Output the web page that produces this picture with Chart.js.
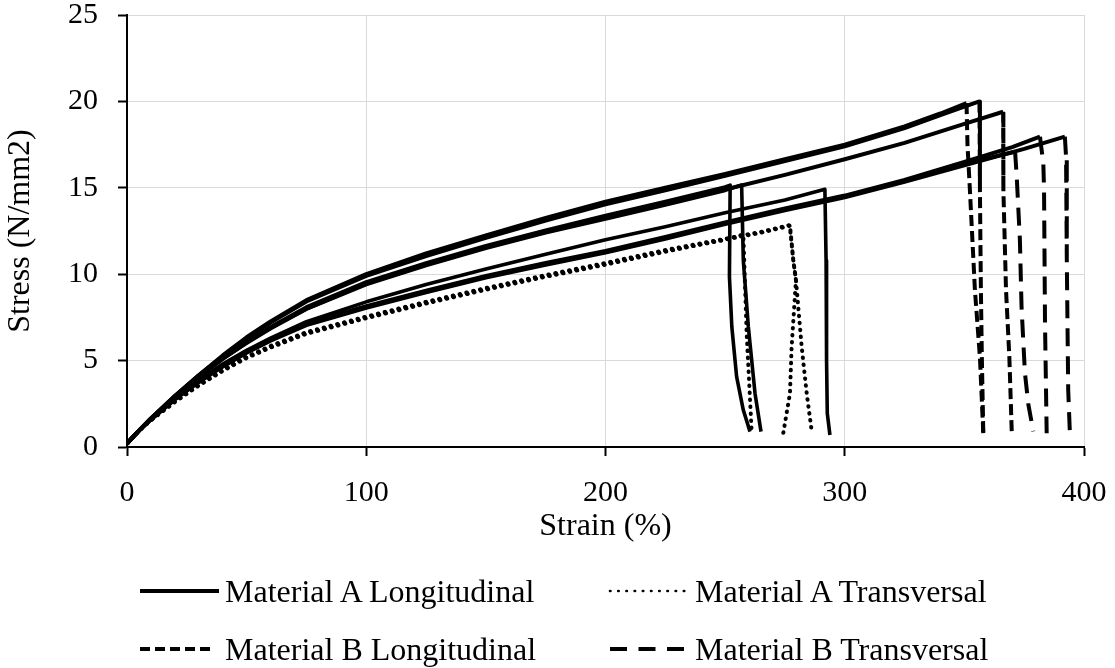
<!DOCTYPE html>
<html>
<head>
<meta charset="utf-8">
<script src="https://cdn.jsdelivr.net/npm/chart.js@4.4.0/dist/chart.umd.min.js"></script>
<style>
  body { margin: 0; background: #fff; }
  #wrap { position: relative; width: 1115px; height: 668px; overflow: hidden; }
  #grafico { position: absolute; left: 0; top: 0; }
  .item { position: absolute; height: 32px; font-family: "Liberation Serif", "Times New Roman", serif; font-size: 32px; line-height: 32px; color: #000; white-space: nowrap; }
  .item svg { position: absolute; left: 0; top: 11px; }
  .item span { position: absolute; top: 0; }
</style>
</head>
<body>
<div id="wrap">
  <canvas id="grafico" width="1115" height="668"></canvas>
  <div id="leyenda"></div>
</div>
<script>
//datos
const seriesNames = ["Material A Longitudinal", "Material A Transversal", "Material B Longitudinal", "Material B Transversal"];

// Material A Longitudinal
const strainAL1 = [0, 5, 10, 20, 30, 40, 50, 60, 75, 100, 125, 150, 175, 200, 225, 250, 252.1, 251.8, 252.8, 254.8, 257.6, 260.4];
const stressAL1 = [0.2, 0.95, 1.65, 2.95, 4.1, 5.15, 6.1, 6.95, 8.1, 9.55, 10.65, 11.65, 12.55, 13.4, 14.2, 15.05, 15.15, 9.86, 6.96, 4.07, 2.14, 0.89];
const strainAL2 = [0, 5, 10, 20, 30, 40, 50, 60, 75, 100, 125, 150, 175, 200, 225, 250, 256.9, 257.6, 259.7, 262.5, 265];
const stressAL2 = [0.2, 0.95, 1.65, 2.9, 4.05, 5.1, 6.0, 6.85, 7.98, 9.4, 10.5, 11.5, 12.4, 13.2, 14.0, 14.85, 15.16, 10.8, 6.96, 3.1, 0.89];
const strainAL3 = [0, 5, 10, 20, 30, 40, 50, 60, 75, 100, 125, 150, 175, 200, 225, 250, 275, 291.7, 292.2, 292.4, 292.7, 293.8];
const stressAL3 = [0.2, 0.95, 1.6, 2.8, 3.85, 4.8, 5.6, 6.3, 7.25, 8.4, 9.4, 10.3, 11.15, 12.0, 12.75, 13.55, 14.3, 14.91, 10.8, 5.0, 1.95, 0.69];

// Material A Transversal
const strainAT1 = [0, 5, 10, 20, 30, 40, 50, 60, 75, 100, 125, 150, 175, 200, 225, 250, 257.6, 259, 261.1];
const stressAT1 = [0.2, 0.95, 1.55, 2.65, 3.6, 4.45, 5.2, 5.8, 6.6, 7.5, 8.35, 9.15, 9.9, 10.6, 11.35, 12.0, 12.3, 6.6, 0.87];
const strainAT2 = [0, 5, 10, 20, 30, 40, 50, 60, 75, 100, 125, 150, 175, 200, 225, 250, 265, 277.1, 278.5, 279.6, 277.8, 277.1, 274.3];
const stressAT2 = [0.2, 0.95, 1.55, 2.65, 3.6, 4.45, 5.22, 5.85, 6.65, 7.55, 8.4, 9.2, 9.95, 10.65, 11.4, 12.05, 12.45, 12.85, 10.8, 9.66, 5.8, 3.1, 0.8];
const strainAT3 = [0, 5, 10, 20, 30, 40, 50, 60, 75, 100, 125, 150, 175, 200, 225, 250, 265, 277, 278.5, 279.6, 282, 284.1, 286.2];
const stressAT3 = [0.2, 0.95, 1.55, 2.6, 3.55, 4.4, 5.15, 5.75, 6.55, 7.45, 8.3, 9.1, 9.85, 10.55, 11.3, 12.0, 12.4, 12.8, 10.8, 9.66, 5.8, 3.1, 0.9];

// Material B Longitudinal
const strainBL1 = [0, 5, 10, 20, 30, 40, 50, 60, 75, 100, 125, 150, 175, 200, 225, 250, 275, 300, 325, 340, 350.9, 351.3, 352.3, 354.4, 356.5, 357.9];
const stressBL1 = [0.2, 0.95, 1.65, 2.95, 4.15, 5.3, 6.35, 7.27, 8.5, 10.0, 11.2, 12.25, 13.25, 14.2, 15.0, 15.8, 16.65, 17.5, 18.55, 19.3, 19.9, 17.5, 14.9, 9.1, 5.2, 0.8];
const strainBL2 = [0, 5, 10, 20, 30, 40, 50, 60, 75, 100, 125, 150, 175, 200, 225, 250, 275, 300, 325, 340, 350, 356.3, 356.5, 356.9, 357.3, 357.9];
const stressBL2 = [0.2, 0.95, 1.65, 2.95, 4.15, 5.25, 6.3, 7.2, 8.42, 9.9, 11.05, 12.1, 13.1, 14.05, 14.85, 15.7, 16.55, 17.4, 18.45, 19.2, 19.7, 20.0, 14.9, 9.1, 5.2, 0.8];
const strainBL3 = [0, 5, 10, 20, 30, 40, 50, 60, 75, 100, 125, 150, 175, 200, 225, 250, 275, 300, 325, 350, 366.2, 366.3, 367.4, 368.8, 369.8];
const stressBL3 = [0.2, 0.95, 1.65, 2.9, 4.05, 5.1, 6.05, 6.9, 8.0, 9.45, 10.55, 11.55, 12.45, 13.3, 14.1, 14.9, 15.75, 16.65, 17.6, 18.7, 19.4, 14.9, 9.1, 5.2, 0.9];

// Material B Transversal
const strainBT1 = [0, 5, 10, 20, 30, 40, 50, 60, 75, 100, 125, 150, 175, 200, 225, 250, 275, 300, 325, 350, 371.2, 371.9, 373.2, 373.9, 375.3, 376.7, 378.8];
const stressBT1 = [0.2, 0.95, 1.6, 2.75, 3.8, 4.7, 5.5, 6.2, 7.1, 8.1, 9.0, 9.85, 10.6, 11.3, 12.1, 12.95, 13.75, 14.5, 15.4, 16.4, 17.09, 15.6, 12.0, 8.1, 4.3, 2.5, 0.9];
const strainBT2 = [0, 5, 10, 20, 30, 40, 50, 60, 75, 100, 125, 150, 175, 200, 225, 250, 275, 300, 325, 350, 370, 381.6, 383.0, 383.3, 383.7, 384.4];
const stressBT2 = [0.2, 0.95, 1.6, 2.8, 3.85, 4.75, 5.55, 6.25, 7.15, 8.15, 9.05, 9.9, 10.65, 11.35, 12.15, 13.0, 13.8, 14.55, 15.45, 16.5, 17.35, 17.96, 16.4, 14.9, 7.2, 0.8];
const strainBT3 = [0, 5, 10, 20, 30, 40, 50, 60, 75, 100, 125, 150, 175, 200, 225, 250, 275, 300, 325, 350, 375, 392, 392.5, 392.8, 393.4, 394.1];
const stressBT3 = [0.2, 0.95, 1.6, 2.75, 3.75, 4.65, 5.45, 6.15, 7.05, 8.05, 8.95, 9.8, 10.55, 11.25, 12.05, 12.9, 13.7, 14.45, 15.35, 16.3, 17.25, 17.96, 16.8, 11.0, 3.3, 0.8];

const xTicks = [0, 100, 200, 300, 400];
const yTicks = [0, 5, 10, 15, 20, 25];

// estilos por grupo
const dashBL = [11, 5];
const dashBT = [18, 10];
const dotAT = [0.5, 6.5];

function puntos(xs, ys) {
  var p = [];
  for (var i = 0; i < xs.length; i++) {
    p.push({x: xs[i], y: ys[i]});
  }
  return p;
}

// the rising part of the B curves is dense data in the original, so only the drop shows the dash
function dashOnDrop(dash) {
  return function (ctx) {
    return ctx.p1.parsed.y < ctx.p0.parsed.y ? dash : undefined;
  };
}

function serie(xs, ys, tipo) {
  var ds = {
    data: puntos(xs, ys),
    showLine: true,
    borderColor: "#000",
    backgroundColor: "#000",
    borderWidth: 3.6,
    pointRadius: 0,
    pointHoverRadius: 0,
    tension: 0,
    borderJoinStyle: "round"
  };
  if (tipo == 1) {
    ds.borderDash = dotAT;
    ds.borderWidth = 4;
    ds.borderCapStyle = "round";
  } else if (tipo == 2) {
    ds.borderWidth = 4;
    ds.segment = {borderDash: dashOnDrop(dashBL)};
  } else if (tipo == 3) {
    ds.borderWidth = 4;
    ds.segment = {borderDash: dashOnDrop(dashBT)};
  }
  return ds;
}

const fuente = "'Liberation Serif', 'Times New Roman', serif";

var config = {
  type: "scatter",
  data: {
    datasets: [
      serie(strainAT1, stressAT1, 1),
      serie(strainAT2, stressAT2, 1),
      serie(strainAT3, stressAT3, 1),
      serie(strainBT1, stressBT1, 3),
      serie(strainBT2, stressBT2, 3),
      serie(strainBT3, stressBT3, 3),
      serie(strainBL1, stressBL1, 2),
      serie(strainBL2, stressBL2, 2),
      serie(strainBL3, stressBL3, 2),
      serie(strainAL1, stressAL1, 0),
      serie(strainAL2, stressAL2, 0),
      serie(strainAL3, stressAL3, 0)
    ]
  },
  options: {
    responsive: false,
    animation: false,
    events: [],
    layout: { padding: { top: 15, right: 31, bottom: 122, left: 0 } },
    plugins: {
      legend: { display: false },
      tooltip: { enabled: false }
    },
    scales: {
      x: {
        type: "linear",
        min: xTicks[0],
        max: xTicks[xTicks.length - 1],
        afterBuildTicks: function (s) { s.ticks = xTicks.map(function (v) { return {value: v}; }); },
        afterFit: function (s) { s.height = 99; s.paddingLeft = 0; s.paddingRight = 0; },
        ticks: { color: "#000", padding: 22, font: { family: fuente, size: 30, lineHeight: 1 } },
        grid: { color: "#d9d9d9", lineWidth: 1, tickLength: 9, tickColor: "#000", tickWidth: 2 },
        border: { color: "#000", width: 2 },
        title: { display: true, text: "Strain (%)", color: "#000", padding: 0, font: { family: fuente, size: 32 } }
      },
      y: {
        type: "linear",
        min: yTicks[0],
        max: yTicks[yTicks.length - 1],
        afterBuildTicks: function (s) { s.ticks = yTicks.map(function (v) { return {value: v}; }); },
        afterFit: function (s) { s.width = 127; s.paddingTop = 0; s.paddingBottom = 0; },
        ticks: { color: "#000", padding: 20, font: { family: fuente, size: 30, lineHeight: 1 } },
        grid: { color: "#d9d9d9", lineWidth: 1, tickLength: 9, tickColor: "#000", tickWidth: 2 },
        border: { color: "#000", width: 2 },
        title: { display: true, text: "Stress (N/mm2)", color: "#000", padding: { top: 1, bottom: 0 }, font: { family: fuente, size: 32 } }
      }
    }
  }
};

var grafico = new Chart(document.getElementById("grafico").getContext("2d"), config);

//leyenda
var claves = [
  {left: 138, top: 575, ancho: 79, dash: "", cap: "butt"},
  {left: 608, top: 575, ancho: 77, dash: "0.5 7.7", cap: "round"},
  {left: 138, top: 633, ancho: 72, dash: "10 5", cap: "butt"},
  {left: 608, top: 633, ancho: 74, dash: "17 11.5", cap: "butt"}
];
var leyenda = document.getElementById("leyenda");
for (var i = 0; i < claves.length; i++) {
  var c = claves[i];
  var div = document.createElement("div");
  div.className = "item";
  div.style.left = c.left + "px";
  div.style.top = c.top + "px";
  var svg = '<svg width="' + (c.ancho + 4) + '" height="10"><line x1="2" y1="5" x2="' + (c.ancho + 2) + '" y2="5" stroke="#000" stroke-width="' + (i == 1 ? 2.6 : 3.8) + '" stroke-linecap="' + c.cap + '"' + (c.dash ? ' stroke-dasharray="' + c.dash + '"' : '') + '/></svg>';
  div.innerHTML = svg + '<span style="left:87px">' + seriesNames[i] + '</span>';
  leyenda.appendChild(div);
}
</script>
</body>
</html>
